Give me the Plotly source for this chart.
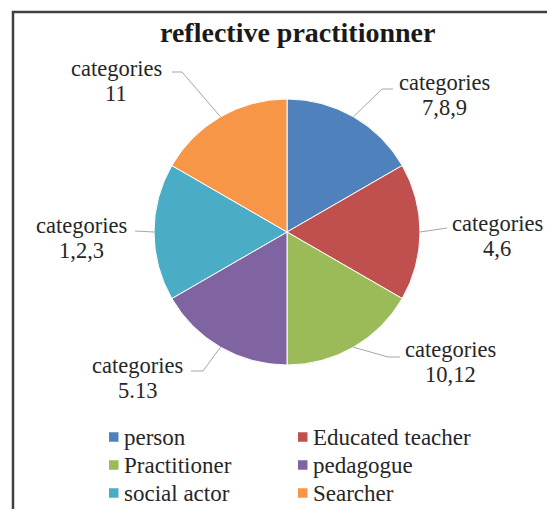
import math
import plotly.graph_objects as go

# ---- data ----
labels = ["person", "Educated teacher", "Practitioner", "pedagogue", "social actor", "Searcher"]
values = [1, 1, 1, 1, 1, 1]
slice_text = ["categories<br>7,8,9", "categories<br>4,6", "categories<br>10,12",
              "categories<br>5.13", "categories<br>1,2,3", "categories<br>11"]
colors = ["#4F81BD", "#C0504D", "#9BBB59", "#8064A2", "#4BACC6", "#F79646"]
title_text = "reflective practitionner"

# ---- layout constants (page pixels; page body has an 8px margin) ----
OFF = 8
W, H = 555 - OFF, 509 - OFF
cx, cy, r = 287, 232, 133
FONT = "Liberation Serif, Times New Roman, serif"

def px(x):
    return (x - OFF) / W

def py(y):
    return 1 - (y - OFF) / H

# label text centres and leader elbows/ends (page pixels)
label_pos = [(444, 95.5), (497, 235.5), (450, 361.5), (137, 377.5), (81, 238), (116, 81)]
line_gap = 25
leader_tail = [
    [(382, 89), (393, 89)],
    [(447, 228)],
    [(388, 357), (400, 357)],
    [(203, 371), (191, 371)],
    [(135, 231)],
    [(182, 72), (172, 72)],
]

fig = go.Figure(go.Pie(
    labels=labels, values=values, sort=False, direction="clockwise", rotation=0,
    marker=dict(colors=colors, line=dict(color="white", width=1)),
    textinfo="none", hoverinfo="label", showlegend=False,
    domain=dict(x=[px(cx - r), px(cx + r)], y=[py(cy + r), py(cy - r)]),
))

# leader lines from slice mid-angles
total = sum(values)
acc = 0
shapes = []
for i, v in enumerate(values):
    mid = (acc + v / 2) / total * 2 * math.pi
    acc += v
    ex, ey = cx + r * math.sin(mid), cy - r * math.cos(mid)
    pts = [(ex, ey)] + leader_tail[i]
    path = "M " + " L ".join(f"{px(x)},{py(y)}" for x, y in pts)
    shapes.append(dict(type="path", path=path, xref="paper", yref="paper",
                       line=dict(color="#A6A6A6", width=1)))

# chart border
shapes.append(dict(type="rect", xref="paper", yref="paper",
                   x0=px(13), y0=py(540), x1=px(590), y1=py(12),
                   line=dict(color="#404040", width=2.5)))

annotations = []
for (x, y), t in zip(label_pos, slice_text):
    lines = t.split("<br>")
    n = len(lines)
    for k, ln in enumerate(lines):
        yy = y + (k - (n - 1) / 2) * line_gap
        annotations.append(dict(x=px(x), y=py(yy), xref="paper", yref="paper", text=ln,
                                showarrow=False, xanchor="center", yanchor="middle",
                                font=dict(family=FONT, size=22.5, color="#262626")))
annotations.append(dict(x=px(297), y=py(32), xref="paper", yref="paper",
                        text="<b>" + title_text + "</b>", showarrow=False,
                        xanchor="center", yanchor="middle",
                        font=dict(family=FONT, size=28, color="#1a1a1a")))

# legend: two columns, three rows (drawn from labels/colors)
col_x = [109, 298]
row_y = [437, 465, 493]
sw = 9.5
for i, (lab, col) in enumerate(zip(labels, colors)):
    x0 = col_x[i % 2]
    yc = row_y[i // 2]
    shapes.append(dict(type="rect", xref="paper", yref="paper",
                       x0=px(x0), x1=px(x0 + sw), y0=py(yc + sw / 2), y1=py(yc - sw / 2),
                       fillcolor=col, line=dict(width=0)))
    annotations.append(dict(x=px(x0 + sw + 3), y=py(yc), xref="paper", yref="paper",
                            text=lab, showarrow=False, xanchor="left", yanchor="middle",
                            font=dict(family=FONT, size=23, color="#262626")))

fig.update_layout(
    width=W, height=H, margin=dict(l=0, r=0, t=0, b=0, autoexpand=False),
    paper_bgcolor="white", plot_bgcolor="white",
    shapes=shapes, annotations=annotations,
    showlegend=False,
)

fig.write_html("out.html")
